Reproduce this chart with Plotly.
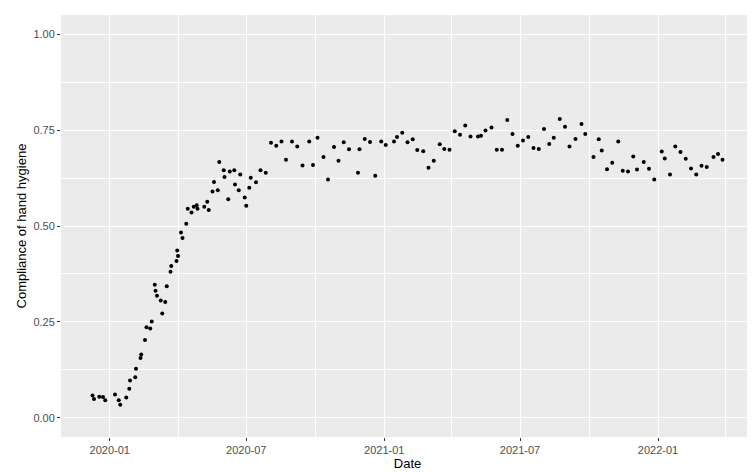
import plotly.graph_objects as go

dates = [
    "2019-12-09", "2019-12-11", "2019-12-18", "2019-12-23", "2019-12-26",
    "2020-01-08", "2020-01-13", "2020-01-15", "2020-01-23", "2020-01-27",
    "2020-01-28", "2020-02-04", "2020-02-05", "2020-02-11", "2020-02-12",
    "2020-02-17", "2020-02-19", "2020-02-24", "2020-02-26", "2020-03-01",
    "2020-03-02", "2020-03-04", "2020-03-09", "2020-03-11", "2020-03-15",
    "2020-03-17", "2020-03-22", "2020-03-23", "2020-03-30", "2020-03-31",
    "2020-04-01", "2020-04-05", "2020-04-07", "2020-04-12", "2020-04-14",
    "2020-04-19", "2020-04-22", "2020-04-26", "2020-04-27", "2020-05-06",
    "2020-05-10", "2020-05-12", "2020-05-17", "2020-05-19", "2020-05-24",
    "2020-05-26", "2020-06-01", "2020-06-02", "2020-06-07", "2020-06-09",
    "2020-06-15", "2020-06-16", "2020-06-21", "2020-06-23", "2020-06-29",
    "2020-07-01", "2020-07-05", "2020-07-07", "2020-07-14", "2020-07-20",
    "2020-07-27", "2020-08-03", "2020-08-10", "2020-08-17", "2020-08-23",
    "2020-08-31", "2020-09-07", "2020-09-14", "2020-09-23", "2020-09-28",
    "2020-10-04", "2020-10-12", "2020-10-18", "2020-10-26", "2020-11-01",
    "2020-11-08", "2020-11-15", "2020-11-27", "2020-11-29", "2020-12-06",
    "2020-12-13", "2020-12-20", "2020-12-28", "2021-01-03", "2021-01-14",
    "2021-01-18", "2021-01-25", "2021-02-01", "2021-02-08", "2021-02-14",
    "2021-02-22", "2021-03-01", "2021-03-08", "2021-03-16", "2021-03-22",
    "2021-03-29", "2021-04-05", "2021-04-12", "2021-04-19", "2021-04-26",
    "2021-05-06", "2021-05-10", "2021-05-16", "2021-05-24", "2021-05-31",
    "2021-06-07", "2021-06-14", "2021-06-21", "2021-06-28", "2021-07-05",
    "2021-07-12", "2021-07-19", "2021-07-26", "2021-08-02", "2021-08-09",
    "2021-08-15", "2021-08-23", "2021-08-30", "2021-09-05", "2021-09-13",
    "2021-09-21", "2021-09-26", "2021-10-07", "2021-10-14", "2021-10-18",
    "2021-10-25", "2021-11-01", "2021-11-09", "2021-11-15", "2021-11-22",
    "2021-11-29", "2021-12-04", "2021-12-13", "2021-12-20", "2021-12-27",
    "2022-01-06", "2022-01-10", "2022-01-17", "2022-01-24", "2022-01-31",
    "2022-02-07", "2022-02-14", "2022-02-21", "2022-02-28", "2022-03-07",
    "2022-03-16", "2022-03-22", "2022-03-28",
]

compliance = [
    0.058, 0.049, 0.055, 0.054, 0.046,
    0.061, 0.046, 0.034, 0.053, 0.076,
    0.097, 0.106, 0.128, 0.156, 0.165,
    0.203, 0.236, 0.233, 0.251, 0.347,
    0.331, 0.318, 0.306, 0.272, 0.302,
    0.343, 0.381, 0.396, 0.409, 0.436,
    0.422, 0.483, 0.469, 0.506, 0.545,
    0.535, 0.550, 0.554, 0.545, 0.550,
    0.563, 0.542, 0.590, 0.615, 0.593,
    0.667, 0.645, 0.628, 0.570, 0.642,
    0.645, 0.608, 0.593, 0.634, 0.574,
    0.553, 0.600, 0.626, 0.614, 0.645,
    0.639, 0.717, 0.709, 0.720, 0.673,
    0.720, 0.707, 0.658, 0.720, 0.659,
    0.730, 0.680, 0.621, 0.706, 0.670,
    0.718, 0.700, 0.639, 0.700, 0.727,
    0.719, 0.631, 0.720, 0.711, 0.720,
    0.732, 0.743, 0.718, 0.726, 0.698,
    0.695, 0.652, 0.670, 0.713, 0.701,
    0.699, 0.747, 0.738, 0.762, 0.733,
    0.733, 0.735, 0.749, 0.757, 0.699,
    0.699, 0.776, 0.740, 0.709, 0.723,
    0.732, 0.703, 0.701, 0.753, 0.714,
    0.730, 0.779, 0.759, 0.707, 0.727,
    0.766, 0.740, 0.680, 0.726, 0.697,
    0.648, 0.665, 0.720, 0.644, 0.642,
    0.681, 0.647, 0.667, 0.649, 0.621,
    0.694, 0.676, 0.634, 0.707, 0.693,
    0.675, 0.650, 0.634, 0.657, 0.654,
    0.680, 0.688, 0.673,
]

x_ticks = ["2020-01-01", "2020-07-01", "2021-01-01", "2021-07-01", "2022-01-01"]
x_tick_labels = ["2020-01", "2020-07", "2021-01", "2021-07", "2022-01"]
y_ticks = [0.00, 0.25, 0.50, 0.75, 1.00]
y_tick_labels = ["0.00", "0.25", "0.50", "0.75", "1.00"]

fig = go.Figure()
fig.add_trace(go.Scatter(
    x=dates, y=compliance, mode="markers",
    marker=dict(color="black", size=4, line=dict(width=0)),
    showlegend=False, hoverinfo="x+y",
))

font_family = "Liberation Sans, Arial, sans-serif"

fig.update_layout(
    width=755, height=472,
    margin=dict(l=53, r=9, t=7, b=43, autoexpand=False),
    paper_bgcolor="white",
    plot_bgcolor="#EBEBEB",
    font=dict(family=font_family, color="black"),
    xaxis=dict(
        type="date",
        automargin=False,
        range=["2019-10-28", "2022-05-09"],
        tickmode="array", tickvals=x_ticks, ticktext=x_tick_labels,
        ticks="outside", ticklen=3, tickwidth=1, tickcolor="#333333",
        tickfont=dict(size=11, color="#4D4D4D"),
        showgrid=True, gridcolor="white", gridwidth=1.4,
        minor=dict(dtick="M3", tick0="2020-01-01", showgrid=True,
                   gridcolor="white", gridwidth=0.7, ticks=""),
        zeroline=False, showline=False,
        title=dict(text="Date", font=dict(size=13, color="black"), standoff=3),
    ),
    yaxis=dict(
        automargin=False,
        range=[-0.05, 1.05],
        tickmode="array", tickvals=y_ticks, ticktext=y_tick_labels,
        ticks="outside", ticklen=3, tickwidth=1, tickcolor="#333333",
        tickfont=dict(size=11, color="#4D4D4D"),
        showgrid=True, gridcolor="white", gridwidth=1.4,
        minor=dict(dtick=0.125, tick0=0, showgrid=True,
                   gridcolor="white", gridwidth=0.7, ticks=""),
        zeroline=False, showline=False,
        title=dict(text="Compliance of hand hygiene", font=dict(size=13, color="black"), standoff=3),
    ),
)

fig.write_html("out.html")
